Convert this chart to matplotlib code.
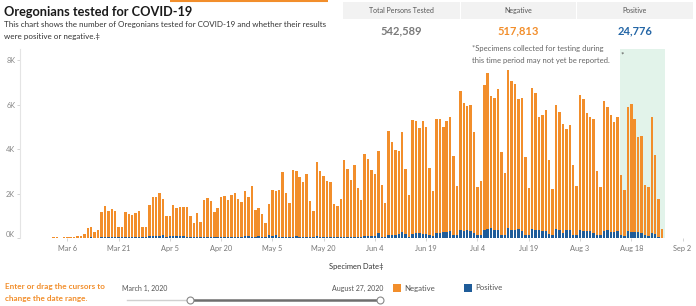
import matplotlib
matplotlib.use("Agg")
import matplotlib.pyplot as plt
import matplotlib.dates as mdates
import pandas as pd
from matplotlib.patches import Rectangle

plt.rcParams['font.family'] = ['Lato', 'DejaVu Sans']

# daily totals (negative + positive), Mar 1 .. Aug 27 2020
totals = [
    0, 30, 30, 10, 60, 30, 60, 60, 100, 75,
    165, 435, 510, 285, 345, 1155, 1440, 1215, 1290, 1230,
    510, 510, 1170, 1095, 1035, 1125, 1215, 510, 510, 1500,
    1845, 1830, 2025, 1740, 975, 1005, 1500, 1335, 1380, 1380,
    1380, 975, 675, 1125, 735, 1710, 1785, 1650, 1155, 1365,
    1845, 1875, 1695, 1935, 2025, 1740, 1620, 2115, 1830, 2355,
    1245, 1365, 1065, 690, 1515, 2160, 2115, 2160, 2970, 2040,
    1575, 3045, 3015, 2745, 2520, 2880, 1680, 1230, 3405, 3015,
    2790, 2550, 2505, 1530, 1440, 1740, 3495, 3120, 2625, 3270,
    2265, 1695, 3795, 3555, 3045, 2865, 3900, 2400, 1575, 4815,
    4335, 3960, 3900, 4755, 3120, 1935, 5295, 5280, 4950, 5250,
    4995, 3135, 2115, 5355, 5340, 4995, 5280, 5445, 3675, 2325,
    6645, 6090, 5940, 6000, 4770, 2280, 2550, 6900, 7440, 6405,
    6300, 6720, 3870, 2940, 7590, 7095, 6930, 6255, 6300, 3645,
    2250, 6765, 6540, 5460, 5550, 5745, 3495, 2220, 6000, 5655,
    5145, 4890, 5100, 3270, 2325, 6465, 6270, 5640, 5460, 5370,
    3015, 2280, 6150, 5895, 5520, 5205, 5460, 2850, 2160, 5910,
    6030, 5340, 4545, 4575, 2370, 2280, 5445, 3720, 1770, 420,
]

positive = [
    0, 0, 0, 0, 5, 5, 5, 5, 10, 10,
    15, 20, 25, 20, 20, 35, 40, 40, 45, 45,
    30, 30, 50, 50, 55, 55, 50, 35, 35, 90,
    110, 80, 100, 150, 60, 70, 90, 70, 75, 75,
    45, 35, 45, 35, 60, 50, 55, 40, 40, 50,
    60, 60, 55, 60, 60, 55, 55, 75, 75, 45,
    45, 70, 45, 35, 120, 75, 120, 60, 60, 60,
    45, 60, 75, 50, 45, 50, 40, 30, 75, 55,
    50, 45, 45, 30, 30, 35, 45, 50, 45, 55,
    45, 30, 75, 105, 75, 80, 225, 40, 30, 150,
    120, 120, 180, 270, 195, 60, 195, 210, 225, 195,
    195, 120, 75, 240, 240, 270, 270, 300, 120, 120,
    375, 330, 360, 330, 240, 120, 120, 375, 390, 450,
    375, 360, 150, 120, 450, 360, 360, 405, 300, 150,
    120, 420, 360, 345, 300, 300, 195, 135, 405, 345,
    240, 360, 360, 150, 120, 360, 330, 330, 300, 240,
    150, 120, 330, 360, 270, 270, 300, 120, 75, 300,
    270, 270, 270, 240, 120, 75, 240, 180, 45, 15,
]

negative = [t - p for t, p in zip(totals, positive)]
dates = pd.date_range("2020-03-01", "2020-08-27", freq="D")

tick_dates = pd.date_range("2020-03-06", "2020-09-02", freq="15D")
tick_labels = [d.strftime("%b ") + str(d.day) for d in tick_dates]
y_ticks = [0, 2000, 4000, 6000, 8000]
y_labels = ["0K", "2K", "4K", "6K", "8K"]

header_labels = ["Total Persons Tested", "Negative", "Positive"]
header_values = ["542,589", "517,813", "24,776"]

ORANGE = "#f28e2b"
BLUE = "#1f5c99"
W, H = 696, 306

fig = plt.figure(figsize=(W / 100, H / 100), dpi=100)

# pixel overlay for the dashboard decorations
deco = fig.add_axes([0, 0, 1, 1])
deco.set_xlim(0, W)
deco.set_ylim(H, 0)
deco.axis("off")

ax = fig.add_axes([20 / W, (H - 238) / H, (693 - 20) / W, (238 - 49) / H])
x0 = mdates.date2num(pd.Timestamp("2020-03-01"))
ax.set_xlim(x0 - 8.84, x0 + 188.06)
ax.set_ylim(0, 8515)

# shaded "may not yet be reported" window
ax.axvspan(x0 + 166.6, x0 + 179.9, color="#e2f3ea", zorder=0, lw=0)
ax.text(x0 + 166.9, 8250, "*", fontsize=6, color="#555", va="center")

ax.bar(dates, negative, bottom=positive, width=0.72, color=ORANGE, zorder=2)
ax.bar(dates, positive, width=0.72, color=BLUE, zorder=2)

ax.set_yticks(y_ticks)
ax.set_yticklabels(y_labels)
ax.set_xticks(tick_dates)
ax.set_xticklabels(tick_labels)
ax.tick_params(axis="y", length=2, width=0.6, color="#cccccc", labelsize=5.3,
               labelcolor="#888888", pad=1.5)
ax.tick_params(axis="x", length=2, width=0.6, color="#cccccc", labelsize=5.3,
               labelcolor="#777777", pad=3)
ax.get_yticklabels()[0].set_va("bottom")
for s in ["top", "right", "bottom"]:
    ax.spines[s].set_visible(False)
ax.spines["left"].set_color("#e4e4e4")
ax.spines["left"].set_linewidth(0.8)
ax.patch.set_alpha(0)

# top accent line
deco.plot([170, 328], [0.6, 0.6], color=ORANGE, lw=1.5, solid_capstyle="butt")

# title block
deco.text(4, 12, "Oregonians tested for COVID-19", fontsize=9.2, fontweight="bold",
          color="#1a1a1a", va="center")
deco.text(4, 25, "This chart shows the number of Oregonians tested for COVID-19 and whether their results",
          fontsize=5.8, color="#333333", va="center")
deco.text(4, 37, "were positive or negative.\u2021", fontsize=5.8, color="#333333", va="center")

# summary table
cells = [(343, 460), (461, 576), (577, 693)]
value_colors = ["#7a7a7a", ORANGE, "#2466a6"]
for (a, b), lab, val, col in zip(cells, header_labels, header_values, value_colors):
    deco.add_patch(Rectangle((a, 2), b - a, 17, facecolor="#f2f2f2", edgecolor="none"))
    deco.text((a + b) / 2, 10.5, lab, fontsize=5, color="#555555", ha="center", va="center")
    deco.text((a + b) / 2, 31, val, fontsize=8, fontweight="bold", color=col,
              ha="center", va="center")

deco.text(472, 48, "*Specimens collected for testing during", fontsize=5.5, color="#666666", va="center")
deco.text(472, 60, "this time period may not yet be reported.", fontsize=5.5, color="#666666", va="center")

# axis title
deco.text(356, 266, "Specimen Date\u2021", fontsize=5.4, color="#333333", ha="center", va="center")

# date range control
deco.text(5, 286, "Enter or drag the cursors to", fontsize=5.9, fontweight="bold", color=ORANGE, va="center")
deco.text(5, 298, "change the date range.", fontsize=5.9, fontweight="bold", color=ORANGE, va="center")
deco.text(122, 288, "March 1, 2020", fontsize=5, color="#555555", va="center")
deco.text(383, 288, "August 27, 2020", fontsize=5, color="#555555", va="center", ha="right")
deco.plot([127, 189], [300, 300], color="#d0d0d0", lw=1)
deco.plot([190, 380], [300, 300], color="#6e6e6e", lw=1.8)
deco.plot([190, 380], [300, 300], "o", ms=5, mfc="white", mec="#888888", mew=0.8)

# legend
deco.add_patch(Rectangle((393, 284), 7.5, 8, facecolor=ORANGE, edgecolor="none"))
deco.text(404, 288, "Negative", fontsize=5.6, color="#555555", va="center")
deco.add_patch(Rectangle((464, 284), 7.5, 8, facecolor=BLUE, edgecolor="none"))
deco.text(475, 288, "Positive", fontsize=5.6, color="#555555", va="center")

fig.savefig("out.png", dpi=100)
